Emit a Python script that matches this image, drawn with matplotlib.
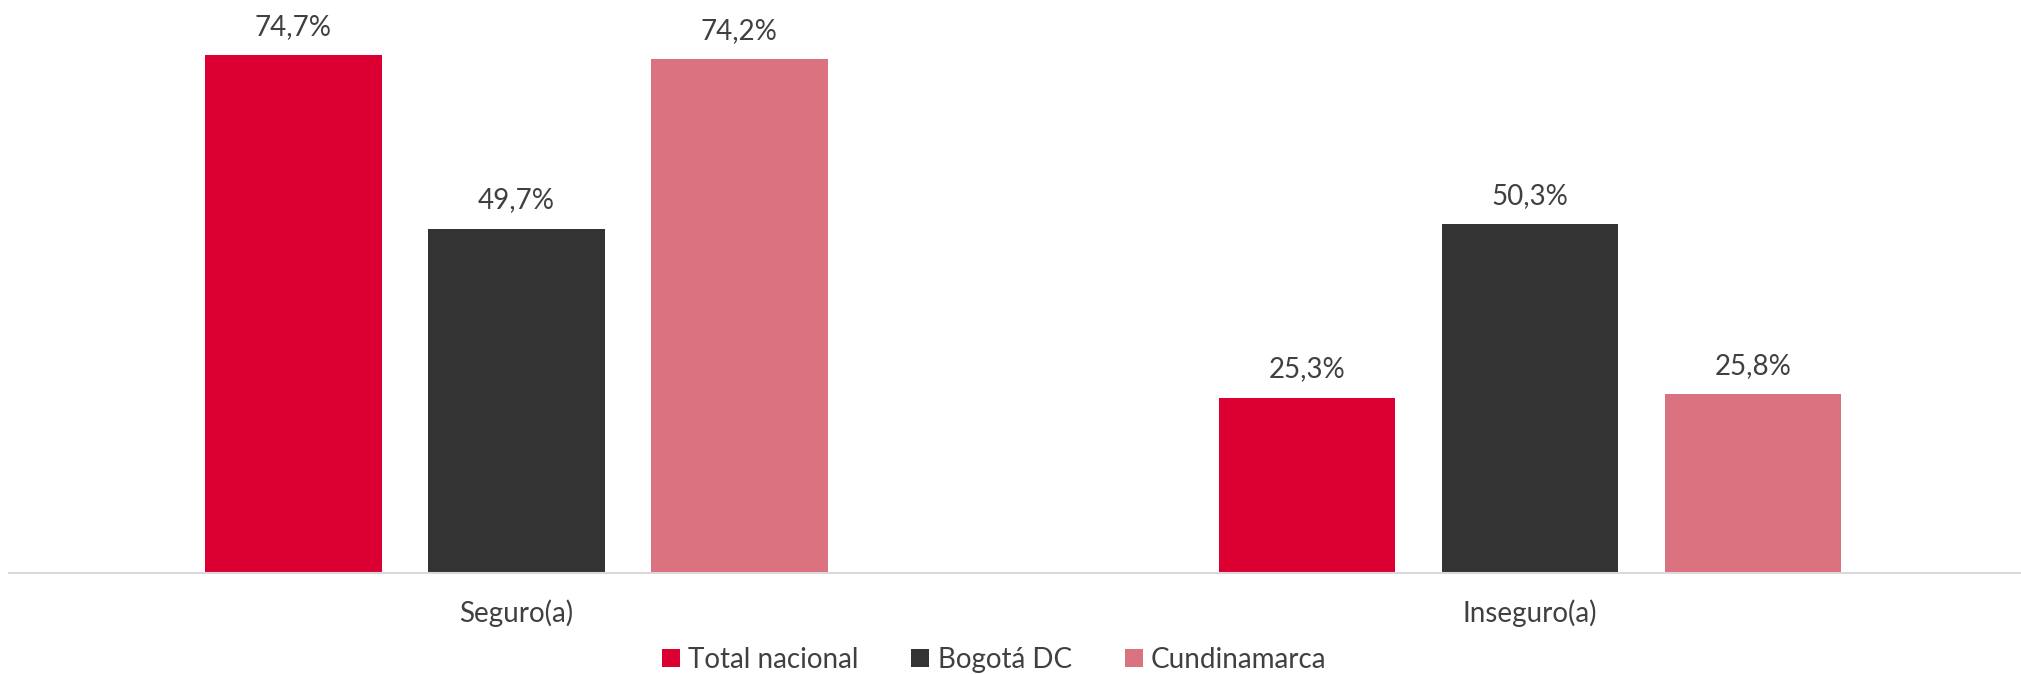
import numpy as np
import matplotlib.pyplot as plt

# datos
categorias = ['Seguro(a)', 'Inseguro(a)']
series = ['Total nacional', 'Bogotá DC', 'Cundinamarca']
total_nacional = [74.7, 25.3]
bogota = [49.7, 50.3]
cundinamarca = [74.2, 25.8]
colores = ['#DC0032', '#333333', '#DB7280']

plt.rcParams['font.family'] = ['Lato', 'DejaVu Sans']

fig = plt.figure(figsize=(20.21, 6.74), dpi=100)
ax = fig.add_axes([9 / 2021, 101 / 674, 1 - 9 / 2021, 573 / 674])

x = np.arange(len(categorias))
ancho = 0.174
paso = 0.22
valores = [total_nacional, bogota, cundinamarca]
for i, (nombre, vals, c) in enumerate(zip(series, valores, colores)):
    pos = x + (i - 1) * paso
    barras = ax.bar(pos, vals, width=ancho, color=c, label=nombre)
    for b, v in zip(barras, vals):
        ax.annotate(f'{v:.1f}%'.replace('.', ','),
                    (b.get_x() + b.get_width() / 2, v),
                    xytext=(0, 11), textcoords='offset points',
                    ha='center', va='bottom', fontsize=20, color='#404040')

ax.set_xlim(-0.5007, 1.4845)
ax.set_ylim(0, 82.7)
ax.set_yticks([])
ax.set_xticks(x)
ax.set_xticklabels(categorias, fontsize=20, color='#404040')
ax.tick_params(axis='x', length=0, pad=19)
for s in ['top', 'right', 'left']:
    ax.spines[s].set_visible(False)
ax.spines['bottom'].set_color('#D9D9D9')
ax.spines['bottom'].set_linewidth(1.5)

ax.legend(loc='lower center', bbox_to_anchor=(0.5 - 21 / 2012, -0.218), ncol=3,
          frameon=False, fontsize=20, handlelength=0.65, handleheight=0.65,
          handletextpad=0.3, columnspacing=1.9, labelcolor='#404040')

fig.savefig('out.png', dpi=100)
